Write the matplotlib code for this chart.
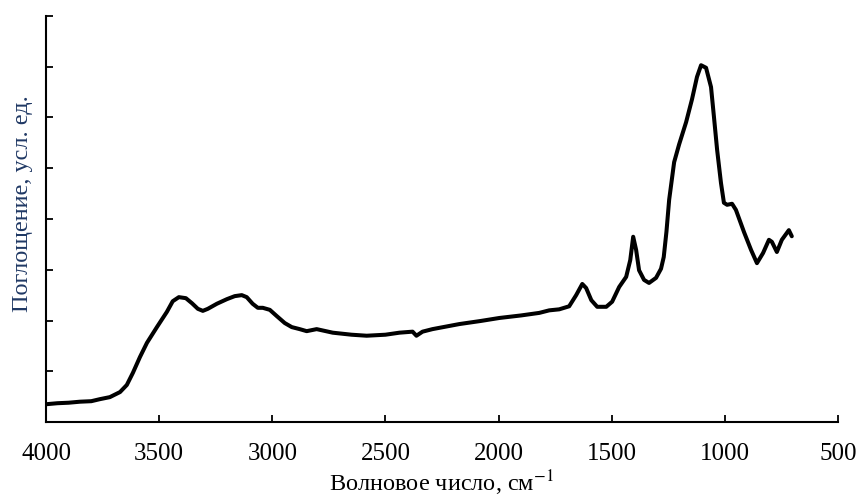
import matplotlib
matplotlib.use("Agg")
from matplotlib import pyplot as plt

# wavenumber, cm-1
wavenumber = [4000, 3950, 3900, 3850, 3800, 3762, 3718, 3673, 3643, 3616, 3585, 3554,
              3510, 3466, 3440, 3413, 3382, 3355, 3329, 3307, 3285, 3245, 3201,
              3166, 3135, 3113, 3087, 3064, 3042, 3011, 2981, 2945, 2914, 2879,
              2848, 2804, 2733, 2650, 2583, 2500, 2438, 2380, 2363, 2336, 2292,
              2173, 2080, 1996, 1900, 1820, 1776, 1732, 1688, 1657, 1630, 1613,
              1590, 1564, 1524, 1498, 1467, 1436, 1418, 1405, 1392, 1379, 1357,
              1335, 1304, 1282, 1270, 1258, 1246, 1224, 1202, 1171, 1145, 1123,
              1105, 1083, 1061, 1048, 1034, 1017, 1004, 990, 968, 951, 915, 884,
              858, 831, 805, 792, 770, 748, 717, 704]
# absorbance, arb. units
absorbance = [0.35, 0.37, 0.38, 0.40, 0.41, 0.45, 0.49, 0.59, 0.73, 0.97, 1.28, 1.56,
              1.87, 2.17, 2.38, 2.46, 2.44, 2.34, 2.23, 2.19, 2.23, 2.33, 2.42,
              2.48, 2.50, 2.46, 2.33, 2.25, 2.25, 2.21, 2.09, 1.95, 1.87, 1.83,
              1.79, 1.83, 1.76, 1.72, 1.70, 1.72, 1.76, 1.78, 1.70, 1.78, 1.83,
              1.93, 1.99, 2.05, 2.10, 2.15, 2.20, 2.22, 2.28, 2.50, 2.72, 2.64,
              2.40, 2.27, 2.27, 2.37, 2.66, 2.86, 3.19, 3.65, 3.39, 2.99, 2.80,
              2.74, 2.84, 3.02, 3.25, 3.75, 4.38, 5.12, 5.47, 5.91, 6.36, 6.80,
              7.03, 6.98, 6.60, 6.01, 5.36, 4.71, 4.32, 4.28, 4.30, 4.18, 3.74, 3.39,
              3.13, 3.33, 3.59, 3.55, 3.35, 3.59, 3.78, 3.66]

x_ticks = [4000, 3500, 3000, 2500, 2000, 1500, 1000, 500]

plt.rcParams['font.family'] = ['Liberation Serif', 'DejaVu Serif']
plt.rcParams['mathtext.fontset'] = 'stix'

fig = plt.figure(figsize=(8.59, 5.0), dpi=100)
ax = fig.add_axes([0.0536, 0.156, 0.9219, 0.812])

ax.plot(wavenumber, absorbance, color='black', linewidth=2.9,
        solid_joinstyle='round', solid_capstyle='round')

ax.set_xlim(4000, 500)
ax.set_ylim(0, 8)
ax.set_xticks(x_ticks)
ax.set_yticks(range(0, 9))
ax.set_yticklabels([])
ax.tick_params(axis='both', direction='in', length=5, width=1.3, labelsize=18)
ax.tick_params(axis='x', pad=15)

for side in ['top', 'right']:
    ax.spines[side].set_visible(False)
for side in ['left', 'bottom']:
    ax.spines[side].set_linewidth(1.5)

ax.set_xlabel('Волновое число, см$^{-1}$', fontsize=17.5, labelpad=3)
ax.set_ylabel('Поглощение, усл. ед.', fontsize=17.5, color='#1f3864')
ax.yaxis.set_label_coords(-0.017, 0.539)

fig.savefig('out.png', dpi=100)
